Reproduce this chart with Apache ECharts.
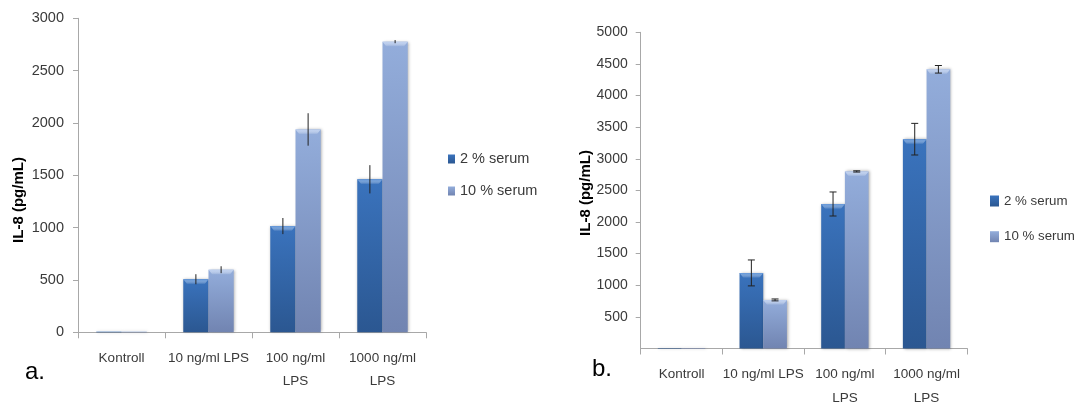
<!DOCTYPE html>
<html>
<head>
<meta charset="utf-8">
<script src="https://cdn.jsdelivr.net/npm/echarts@6/dist/echarts.min.js"></script>
<style>
  html, body { margin: 0; padding: 0; background: #fff; }
  #chart { width: 1075px; height: 410px; }
</style>
</head>
<body>
<div id="chart"></div>
<script>
// Categories shared by both panels
const categories = ['Kontroll', '10 ng/ml LPS', '100 ng/ml\nLPS', '1000 ng/ml\nLPS'];
const seriesNames = ['2 % serum', '10 % serum'];

// Panel a: IL-8 (pg/mL), means and error half-widths
const serum2A = [6, 507, 1015, 1462];
const serum2AErr = [0, 48, 77, 135];
const serum10A = [6, 598, 1938, 2777];
const serum10AErr = [0, 33, 155, 15];

// Panel b: IL-8 (pg/mL), means and error half-widths
const serum2B = [8, 1195, 2285, 3310];
const serum2BErr = [0, 205, 190, 250];
const serum10B = [8, 768, 2800, 4415];
const serum10BErr = [0, 15, 10, 60];

// Axis ranges
const yTicksA = { min: 0, max: 3000, interval: 500 };
const yTicksB = { min: 0, max: 5000, interval: 500 };

const BAR_FRAC = 0.29;
const dark = new echarts.graphic.LinearGradient(0, 0, 0, 1, [
  { offset: 0, color: '#3a73bd' },
  { offset: 1, color: '#2b5791' }
]);
const light = new echarts.graphic.LinearGradient(0, 0, 0, 1, [
  { offset: 0, color: '#93addb' },
  { offset: 1, color: '#7184b1' }
]);
const bevelDark = '#5d93d8';
const bevelLight = '#bccff0';
const sans = 'Liberation Sans';
const textColor = '#3a3a3a';
const axisGray = '#a8a8a8';

function barSeries(name, data, idx, color) {
  return {
    type: 'bar', name, data,
    xAxisIndex: idx, yAxisIndex: idx,
    barWidth: (BAR_FRAC * 100) + '%', barGap: '0%',
    itemStyle: {
      color,
      shadowBlur: 3, shadowColor: 'rgba(0,0,0,0.35)', shadowOffsetX: 1, shadowOffsetY: 0
    },
    z: 2
  };
}

// Bevelled bar top plus the error bar for each value
function overlaySeries(values, errs, idx, side, capHalf, bevelColor) {
  return {
    type: 'custom',
    xAxisIndex: idx, yAxisIndex: idx,
    data: values.map((v, i) => [i, v, errs[i]]),
    encode: { x: 0, y: 1 },
    z: 5,
    silent: true,
    renderItem(params, api) {
      const cat = api.value(0), val = api.value(1), err = api.value(2);
      const band = api.size([1, 0])[0];
      const barW = band * BAR_FRAC;
      const dx = side * barW / 2;
      const valPt = api.coord([cat, val]);
      const basePt = api.coord([cat, 0]);
      const cx = valPt[0] + dx;
      const children = [];
      const h = basePt[1] - valPt[1];
      if (h > 8) {
        const x0 = cx - barW / 2, x1 = cx + barW / 2, y = valPt[1];
        children.push({
          type: 'polygon',
          shape: { points: [[x0, y], [x1, y], [x1 - 4, y + 5], [x0 + 4, y + 5]] },
          style: {
            fill: new echarts.graphic.LinearGradient(0, 0, 0, 1, [
              { offset: 0, color: bevelColor },
              { offset: 1, color: 'rgba(255,255,255,0)' }
            ])
          }
        });
      }
      if (err) {
        const top = api.coord([cat, val + err]);
        const bot = api.coord([cat, val - err]);
        const style = { stroke: '#222', lineWidth: 1 };
        children.push({ type: 'line', shape: { x1: cx, y1: top[1], x2: cx, y2: bot[1] }, style });
        if (capHalf) {
          children.push({ type: 'line', shape: { x1: cx - capHalf, y1: top[1], x2: cx + capHalf, y2: top[1] }, style });
          children.push({ type: 'line', shape: { x1: cx - capHalf, y1: bot[1], x2: cx + capHalf, y2: bot[1] }, style });
        }
      }
      return { type: 'group', children };
    }
  };
}

function xAxisDef(idx, fontSize, margin, lineHeight) {
  return {
    type: 'category', gridIndex: idx, data: categories,
    axisLine: { lineStyle: { color: axisGray } },
    axisTick: { show: true, length: 6, lineStyle: { color: axisGray } },
    axisLabel: {
      interval: 0, fontFamily: sans, fontSize, color: textColor,
      margin, lineHeight
    }
  };
}

function yAxisDef(idx, ticks, fontSize, margin, showZero) {
  return {
    type: 'value', gridIndex: idx,
    min: ticks.min, max: ticks.max, interval: ticks.interval,
    axisLine: { show: true, lineStyle: { color: axisGray } },
    axisTick: { show: true, length: 5, lineStyle: { color: axisGray } },
    splitLine: { show: false },
    axisLabel: {
      fontFamily: sans, fontSize, color: textColor, margin,
      showMinLabel: showZero,
      formatter: v => (v === 0 && !showZero) ? '' : String(v)
    }
  };
}

const chart = echarts.init(document.getElementById('chart'), null, { renderer: 'canvas' });
chart.setOption({
  animation: false,
  backgroundColor: '#fff',
  grid: [
    { left: 78, top: 18.3, width: 348, height: 314 },
    { left: 640.7, top: 32.3, width: 326.7, height: 321.7 }
  ],
  xAxis: [
    xAxisDef(0, 13.5, 14, 23),
    xAxisDef(1, 13.5, 13.5, 24)
  ],
  yAxis: [
    yAxisDef(0, yTicksA, 14.5, 14, true),
    yAxisDef(1, yTicksB, 14, 13, false)
  ],
  legend: [
    {
      data: seriesNames, orient: 'vertical', left: 448, top: 149, padding: 0,
      icon: 'rect', itemWidth: 7, itemHeight: 9, itemGap: 12,
      textStyle: { fontFamily: sans, fontSize: 14.5, color: textColor, lineHeight: 20 },
      selectedMode: false
    },
    {
      data: seriesNames, orient: 'vertical', left: 990, top: 191, padding: 0,
      icon: 'rect', itemWidth: 9, itemHeight: 11, itemGap: 15.7,
      textStyle: { fontFamily: sans, fontSize: 13.3, color: textColor, lineHeight: 20 },
      selectedMode: false
    }
  ],
  graphic: [
    {
      type: 'text', x: 19, y: 200, rotation: Math.PI / 2,
      style: { text: 'IL-8 (pg/mL)', fontFamily: sans, fontWeight: 'bold', fontSize: 15,
               fill: '#000', textAlign: 'center', textVerticalAlign: 'middle' }
    },
    {
      type: 'text', x: 586, y: 193, rotation: Math.PI / 2,
      style: { text: 'IL-8 (pg/mL)', fontFamily: sans, fontWeight: 'bold', fontSize: 15,
               fill: '#000', textAlign: 'center', textVerticalAlign: 'middle' }
    },
    {
      type: 'text', x: 25, y: 384,
      style: { text: 'a.', fontFamily: sans, fontSize: 24, fill: '#000', textVerticalAlign: 'bottom' }
    },
    {
      type: 'text', x: 592, y: 381,
      style: { text: 'b.', fontFamily: sans, fontSize: 24, fill: '#000', textVerticalAlign: 'bottom' }
    }
  ],
  series: [
    barSeries(seriesNames[0], serum2A, 0, dark),
    barSeries(seriesNames[1], serum10A, 0, light),
    overlaySeries(serum2A, serum2AErr, 0, -1, 0, bevelDark),
    overlaySeries(serum10A, serum10AErr, 0, 1, 0, bevelLight),
    barSeries(seriesNames[0], serum2B, 1, dark),
    barSeries(seriesNames[1], serum10B, 1, light),
    overlaySeries(serum2B, serum2BErr, 1, -1, 3.5, bevelDark),
    overlaySeries(serum10B, serum10BErr, 1, 1, 3.5, bevelLight)
  ]
});
</script>
</body>
</html>
